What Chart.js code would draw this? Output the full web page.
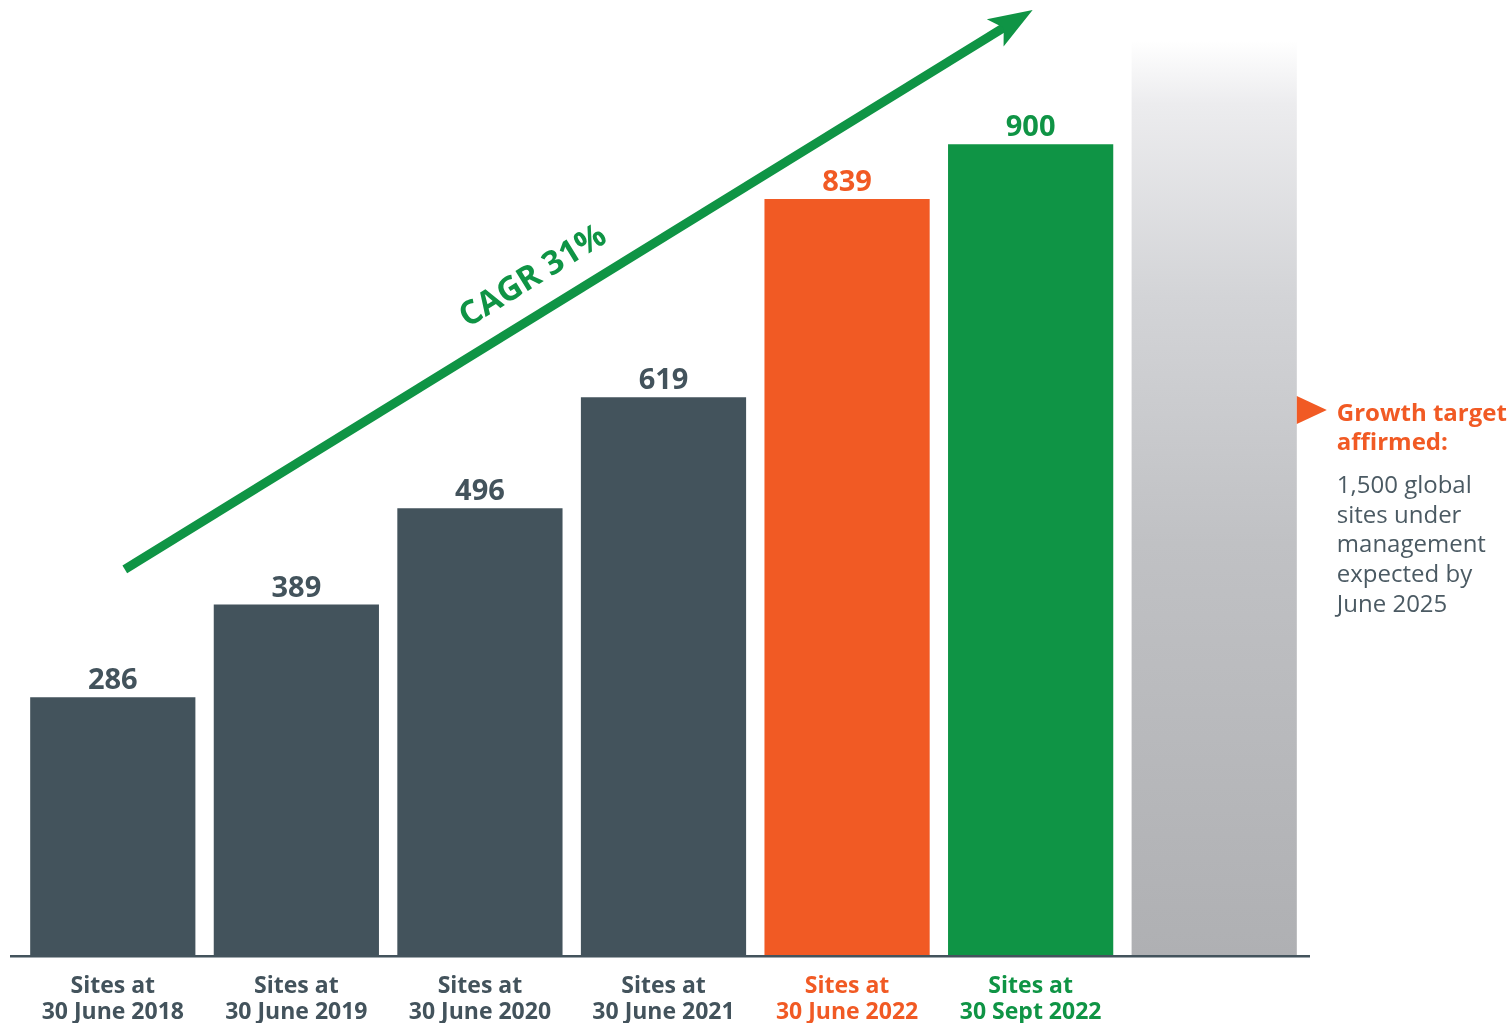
<!DOCTYPE html>
<html>
<head>
<meta charset="utf-8">
<script src="https://cdn.jsdelivr.net/npm/chart.js@4.4.1/dist/chart.umd.min.js"></script>
<style>
  html, body { margin: 0; padding: 0; background: #ffffff; }
  #wrap { position: relative; width: 1512px; height: 1023px; }
  canvas { display: block; }
</style>
</head>
<body>
<div id="wrap"><canvas id="c" width="1512" height="1023"></canvas></div>
<script>
// ---- data ----
const categories = [
  ['Sites at', '30 June 2018'],
  ['Sites at', '30 June 2019'],
  ['Sites at', '30 June 2020'],
  ['Sites at', '30 June 2021'],
  ['Sites at', '30 June 2022'],
  ['Sites at', '30 Sept 2022'],
  ['', '']
];
const sites = [286, 389, 496, 619, 839, 900, 1015]; // last = faded target bar (runs off the top)
const valueLabels = ['286', '389', '496', '619', '839', '900', ''];
const cagrLabel = 'CAGR 31%';
const targetTitle = ['Growth target', 'affirmed:'];
const targetText = ['1,500 global', 'sites under', 'management', 'expected by', 'June 2025'];

// ---- styles ----
const SLATE = '#43535c';
const ORANGE = '#f15a24';
const GREEN = '#0f9445';
const TEXTGREY = '#4b5a63';
const labelColors = [SLATE, SLATE, SLATE, SLATE, ORANGE, GREEN, SLATE];
const FONT = '"Open Sans", "DejaVu Sans", sans-serif';

function barColor(ctx) {
  const i = ctx.dataIndex;
  if (i < 4) return SLATE;
  if (i === 4) return ORANGE;
  if (i === 5) return GREEN;
  const chart = ctx.chart;
  const area = chart.chartArea;
  if (!area) return '#b0b1b4';
  const y = chart.scales.y;
  const top = y.getPixelForValue(sites[i]);
  const bottom = y.getPixelForValue(0);
  const g = chart.ctx.createLinearGradient(0, top, 0, bottom);
  g.addColorStop(0, 'rgba(255,255,255,1)');
  g.addColorStop(0.07, '#ececee');
  g.addColorStop(0.28, '#d3d4d7');
  g.addColorStop(0.55, '#c0c1c4');
  g.addColorStop(1, '#afb0b3');
  return g;
}

const overlay = {
  id: 'overlay',
  afterDatasetsDraw(chart) {
    const ctx = chart.ctx;
    const x = chart.scales.x, y = chart.scales.y;
    const meta = chart.getDatasetMeta(0);
    const area = chart.chartArea;

    // baseline
    ctx.save();
    ctx.fillStyle = SLATE;
    ctx.fillRect(area.left - 11, area.bottom, area.right - area.left + 15, 2.5);
    ctx.restore();

    // value labels
    ctx.save();
    ctx.font = 'bold 29px ' + FONT;
    ctx.textAlign = 'center';
    ctx.textBaseline = 'alphabetic';
    meta.data.forEach((bar, i) => {
      if (!valueLabels[i]) return;
      ctx.fillStyle = labelColors[i];
      ctx.fillText(valueLabels[i], bar.x, bar.y - 8);
    });
    ctx.restore();

    // CAGR arrow, anchored to the scales
    const x0 = x.getPixelForValue(0) + 12, y0 = y.getPixelForValue(428);
    const x1 = x.getPixelForValue(5) + 2, y1 = y.getPixelForValue(1049);
    const ang = Math.atan2(y1 - y0, x1 - x0);
    const ux = Math.cos(ang), uy = Math.sin(ang);
    const px = -uy, py = ux;
    const notch = 34, back = 44, half = 16;
    ctx.save();
    ctx.strokeStyle = GREEN;
    ctx.lineWidth = 9;
    ctx.lineCap = 'butt';
    ctx.beginPath();
    ctx.moveTo(x0, y0);
    ctx.lineTo(x1 - ux * (notch - 2), y1 - uy * (notch - 2));
    ctx.stroke();
    ctx.fillStyle = GREEN;
    ctx.beginPath();
    ctx.moveTo(x1, y1);
    ctx.lineTo(x1 - ux * back + px * half, y1 - uy * back + py * half);
    ctx.lineTo(x1 - ux * notch, y1 - uy * notch);
    ctx.lineTo(x1 - ux * back - px * half, y1 - uy * back - py * half);
    ctx.closePath();
    ctx.fill();

    // CAGR label
    const tcx = x0 + (x1 - x0) * 0.47, tcy = y0 + (y1 - y0) * 0.47;
    ctx.translate(tcx - px * 35, tcy - py * 35);
    ctx.rotate(ang);
    ctx.font = 'bold 33px ' + FONT;
    ctx.textAlign = 'center';
    ctx.textBaseline = 'middle';
    ctx.fillText(cagrLabel, 0, 0);
    ctx.restore();

    // target annotation beside the faded bar
    const gBar = meta.data[6];
    const gx = gBar.x + gBar.width / 2;
    const ty = y.getPixelForValue(605);
    ctx.save();
    ctx.fillStyle = ORANGE;
    ctx.beginPath();
    ctx.moveTo(gx, ty - 14);
    ctx.lineTo(gx + 30, ty);
    ctx.lineTo(gx, ty + 14);
    ctx.closePath();
    ctx.fill();
    const tx = gx + 40;
    ctx.textAlign = 'left';
    ctx.textBaseline = 'middle';
    ctx.font = 'bold 24px ' + FONT;
    targetTitle.forEach((t, i) => ctx.fillText(t, tx, ty + 4 + i * 29));
    ctx.fillStyle = TEXTGREY;
    ctx.font = '24px ' + FONT;
    targetText.forEach((t, i) => ctx.fillText(t, tx, ty + 76 + i * 29.8));
    ctx.restore();
  }
};

new Chart(document.getElementById('c'), {
  type: 'bar',
  data: {
    labels: categories,
    datasets: [{
      data: sites,
      backgroundColor: barColor,
      borderWidth: 0,
      categoryPercentage: 1,
      barPercentage: 0.9
    }]
  },
  options: {
    responsive: false,
    animation: false,
    devicePixelRatio: 1,
    layout: { padding: { left: 21, right: 206, top: 0, bottom: 0 } },
    plugins: { legend: { display: false }, tooltip: { enabled: false }, title: { display: false } },
    scales: {
      x: {
        grid: { display: false, drawTicks: false },
        border: { display: false },
        ticks: {
          padding: 18,
          maxRotation: 0,
          autoSkip: false,
          color: (c) => labelColors[c.index],
          font: { family: FONT, size: 23, weight: 'bold', lineHeight: 1.13 }
        },
        afterFit(scale) { scale.height = 68; }
      },
      y: {
        display: false,
        min: 0,
        max: 1060,
        grid: { display: false }
      }
    }
  },
  plugins: [overlay]
});
</script>
</body>
</html>
